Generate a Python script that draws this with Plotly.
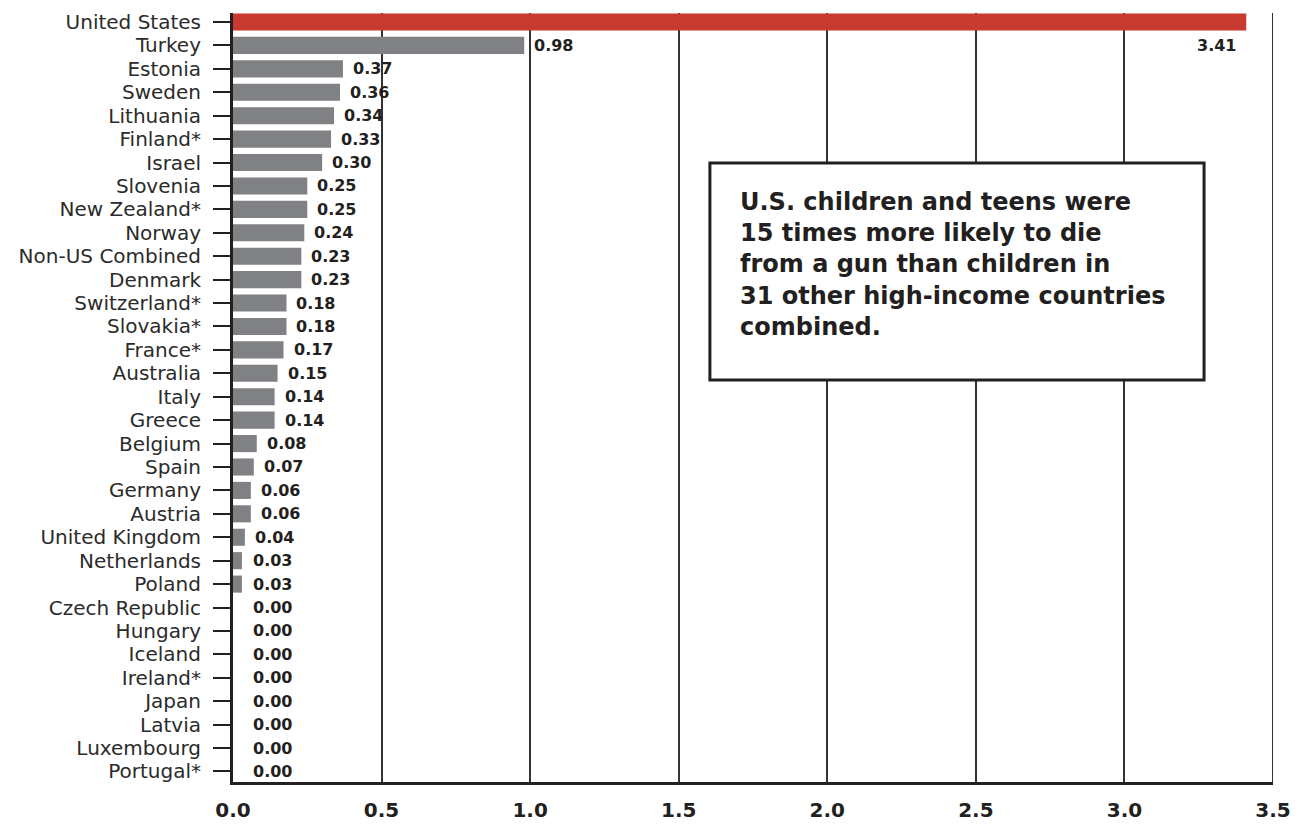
import plotly.graph_objects as go

countries = ["United States", "Turkey", "Estonia", "Sweden", "Lithuania", "Finland*",
             "Israel", "Slovenia", "New Zealand*", "Norway", "Non-US Combined", "Denmark",
             "Switzerland*", "Slovakia*", "France*", "Australia", "Italy", "Greece",
             "Belgium", "Spain", "Germany", "Austria", "United Kingdom", "Netherlands",
             "Poland", "Czech Republic", "Hungary", "Iceland", "Ireland*", "Japan",
             "Latvia", "Luxembourg", "Portugal*"]
rates = [3.41, 0.98, 0.37, 0.36, 0.34, 0.33, 0.30, 0.25, 0.25, 0.24, 0.23, 0.23,
         0.18, 0.18, 0.17, 0.15, 0.14, 0.14, 0.08, 0.07, 0.06, 0.06, 0.04, 0.03,
         0.03, 0.00, 0.00, 0.00, 0.00, 0.00, 0.00, 0.00, 0.00]
x_ticks = [0.0, 0.5, 1.0, 1.5, 2.0, 2.5, 3.0, 3.5]
note_lines = ["U.S. children and teens were", "15 times more likely to die",
              "from a gun than children in", "31 other high-income countries",
              "combined."]

RED = "#C8392F"
GRAY = "#808184"
INK = "#231F20"

colors = [RED if c == "United States" else GRAY for c in countries]

fig = go.Figure()
fig.add_trace(go.Bar(
    x=rates, y=countries, orientation="h",
    marker=dict(color=colors, line=dict(width=0)),
    width=0.73, hoverinfo="x+y",
))

label_font = dict(family="DejaVu Sans", size=16, color=INK, weight="bold")
annotations = []
for c, v in zip(countries, rates):
    if c == "United States":
        annotations.append(dict(x=v, y="Turkey", xref="x", yref="y", text=f"{v:.2f}",
                                showarrow=False, xanchor="right", xshift=-8,
                                font=label_font))
    else:
        annotations.append(dict(x=max(v, 0.035), y=c, xref="x", yref="y", text=f"{v:.2f}",
                                showarrow=False, xanchor="left", xshift=8,
                                font=label_font))

annotations.append(dict(
    x=1.70, y=7.0, xref="x", yref="y", xanchor="left", yanchor="top",
    text="<br>".join(note_lines), align="left", showarrow=False,
    font=dict(family="DejaVu Sans", size=24, color=INK, weight="bold"),
))

fig.update_layout(
    width=1301, height=825,
    margin=dict(l=233, r=28, t=13, b=43),
    plot_bgcolor="white", paper_bgcolor="white",
    showlegend=False,
    annotations=annotations,
    shapes=[
        dict(type="line", xref="x", yref="paper", x0=x_ticks[-1], x1=x_ticks[-1], y0=0, y1=1,
             line=dict(color="#333333", width=2), layer="below"),
        dict(type="rect", xref="x", yref="y", x0=1.605, x1=3.268, y0=6.02, y1=15.29,
             line=dict(color=INK, width=3), fillcolor="white", layer="above"),
    ],
    xaxis=dict(
        range=[0, 3.5], tickmode="array", tickvals=x_ticks,
        ticktext=[f"{t:.1f}" for t in x_ticks],
        showgrid=True, gridcolor="#333333", gridwidth=1.5,
        zeroline=False, showline=True, linecolor=INK, linewidth=3,
        ticks="", ticklabelstandoff=8, automargin=False,
        tickfont=dict(family="DejaVu Sans", size=20, color=INK, weight="bold"),
    ),
    yaxis=dict(
        type="category", categoryorder="array", categoryarray=countries,
        tickmode="array", tickvals=countries, ticktext=countries,
        range=[32.45, -0.384], automargin=False,
        showgrid=False, zeroline=False, showline=True, linecolor=INK, linewidth=3,
        ticks="outside", ticklen=17, tickwidth=1.5, tickcolor=INK,
        ticklabelstandoff=8,
        tickfont=dict(family="DejaVu Sans", size=20, color="#2b2b2b"),
    ),
)

fig.write_html("out.html")
